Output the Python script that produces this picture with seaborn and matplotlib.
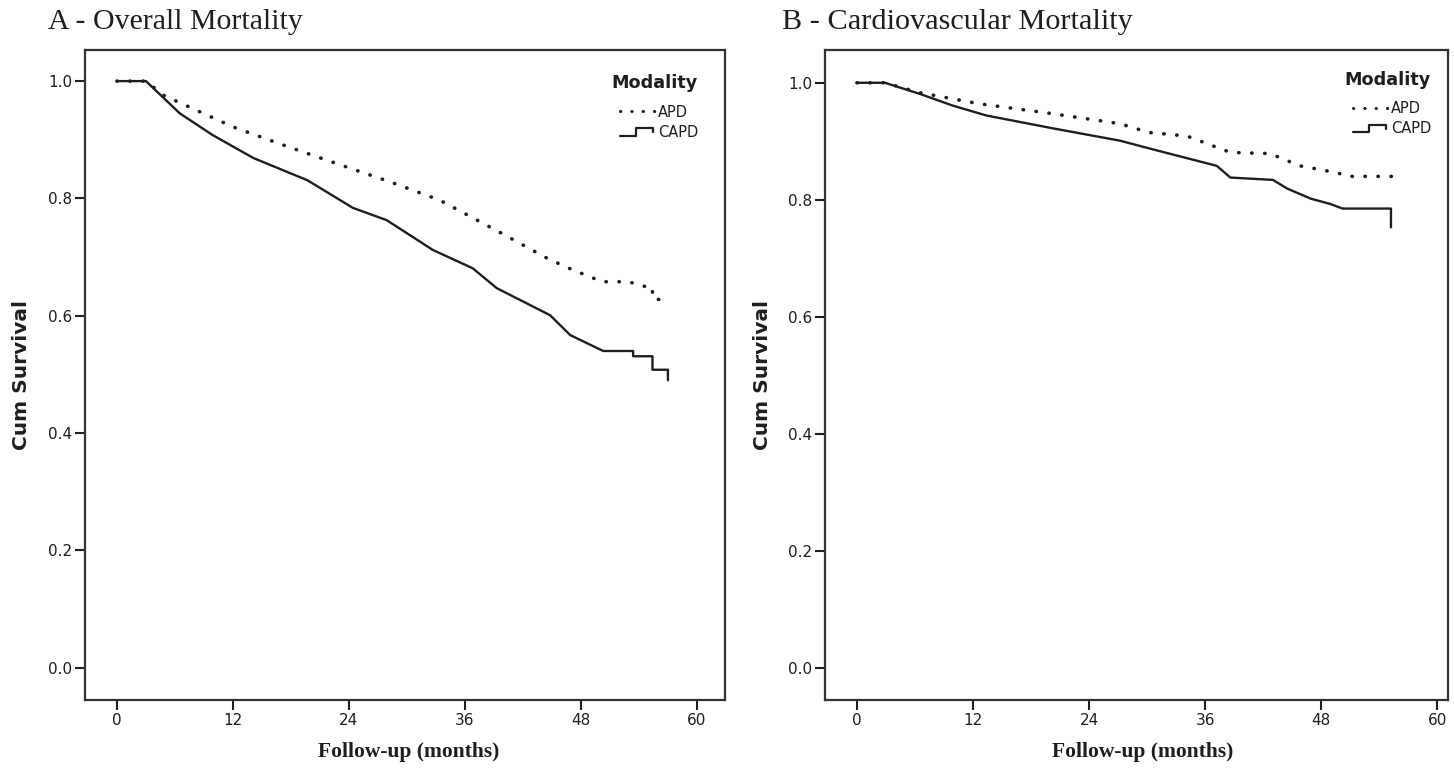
import numpy as np
import pandas as pd
import matplotlib
matplotlib.use("Agg")
import matplotlib.pyplot as plt
import seaborn as sns
from matplotlib.lines import Line2D
from matplotlib.legend_handler import HandlerBase

# ---------------- data ----------------
x_ticks = [0, 12, 24, 36, 48, 60]
y_ticks = [0.0, 0.2, 0.4, 0.6, 0.8, 1.0]
y_tick_labels = ["0.0", "0.2", "0.4", "0.6", "0.8", "1.0"]
groups = ["APD", "CAPD"]
titles = ["A - Overall Mortality", "B - Cardiovascular Mortality"]

a_capd_t = [0, 3.0, 6.5, 9.9, 14.1, 19.7, 24.4, 27.9, 32.7, 36.8, 39.3, 44.8, 46.9,
            50.3, 53.4, 53.4, 55.4, 55.4, 57.0, 57.0]
a_capd_s = [1.0, 1.0, 0.945, 0.908, 0.869, 0.831, 0.784, 0.763, 0.712, 0.681, 0.647, 0.601,
            0.567, 0.540, 0.540, 0.531, 0.531, 0.508, 0.508, 0.490]
a_apd_t = [0, 3.0, 4.8, 12.0, 17.2, 22.8, 28.3, 33.4, 39.3, 42.4, 44.5, 46.9, 50.2, 53.0,
           54.1, 55.4, 55.4, 57.0]
a_apd_s = [1.0, 1.0, 0.976, 0.922, 0.891, 0.859, 0.828, 0.797, 0.745, 0.717, 0.698, 0.680,
           0.658, 0.658, 0.651, 0.649, 0.629, 0.626]

b_capd_t = [0, 2.9, 6.5, 9.9, 13.4, 20.3, 27.2, 30.4, 37.2, 38.6, 43.0, 44.5, 46.9, 48.9,
            50.2, 55.2, 55.2]
b_capd_s = [1.0, 1.0, 0.981, 0.961, 0.944, 0.922, 0.901, 0.887, 0.858, 0.838, 0.834, 0.819,
            0.802, 0.793, 0.785, 0.785, 0.753]
b_apd_t = [0, 2.9, 6.5, 12.7, 20.3, 27.2, 30.2, 34.1, 38.6, 42.7, 45.8, 49.7, 50.7, 55.3, 55.3]
b_apd_s = [1.0, 1.0, 0.983, 0.964, 0.947, 0.930, 0.915, 0.909, 0.881, 0.879, 0.858, 0.846,
           0.840, 0.840, 0.821]

# ---------------- style ----------------
sns.set_style("white")
plt.rcParams["font.family"] = ["DejaVu Sans"]
INK = "#1e1e1e"

fig = plt.figure(figsize=(14.54, 7.73), dpi=100)
axA = fig.add_axes([0.0585, 0.0944, 0.4401, 0.8409])
axB = fig.add_axes([0.5674, 0.0944, 0.4285, 0.8409])


class StepHandler(HandlerBase):
    def create_artists(self, legend, orig_handle, xdescent, ydescent, width, height,
                       fontsize, trans):
        xs = np.array([0.0, 0.45, 0.45, 0.95, 0.95]) * width - xdescent
        ys = np.array([0.1, 0.1, 0.85, 0.85, 0.45]) * height - ydescent
        ln = Line2D(xs, ys, color=INK, lw=1.6)
        ln.set_transform(trans)
        return [ln]


def draw(ax, apd_t, apd_s, capd_t, capd_s, xlim, ylim, title, title_x, title_fs,
         ylab_x, xlab_x, leg_anchor):
    d_apd = pd.DataFrame({"t": apd_t, "s": apd_s})
    d_capd = pd.DataFrame({"t": capd_t, "s": capd_s})
    sns.lineplot(data=d_apd, x="t", y="s", ax=ax, estimator=None, sort=False,
                 color=INK, lw=2.6, linestyle=(0, (0.1, 3.5)),
                 dash_capstyle="round", solid_capstyle="round")
    sns.lineplot(data=d_capd, x="t", y="s", ax=ax, estimator=None, sort=False,
                 color=INK, lw=1.7)
    ax.set_xlim(*xlim)
    ax.set_ylim(*ylim)
    ax.set_xticks(x_ticks)
    ax.set_yticks(y_ticks)
    ax.set_yticklabels(y_tick_labels)
    ax.tick_params(axis="both", direction="out", length=7, width=1.5, colors=INK,
                   labelsize=11, pad=2, bottom=True, left=True)
    for sp in ax.spines.values():
        sp.set_visible(True)
        sp.set_color("#333333")
        sp.set_linewidth(1.6)
    ax.set_ylabel("Cum Survival", fontsize=14.5, fontweight="bold", color=INK)
    ax.yaxis.set_label_coords(ylab_x, 0.5)
    ax.set_xlabel("Follow-up (months)", fontsize=15.5, fontweight="bold", color=INK,
                  family="Liberation Serif")
    ax.xaxis.set_label_coords(xlab_x, -0.064)
    fig.text(title_x, 1 - 22 / 773, title, fontsize=title_fs, family="Liberation Serif",
             va="center", ha="left", color=INK)

    h_apd = Line2D([], [], color=INK, lw=2.2, linestyle=(0, (0.1, 3.6)),
                   dash_capstyle="round")
    h_capd = Line2D([], [], color=INK, lw=1.6)
    leg = ax.legend([h_apd, h_capd], groups, title="Modality", loc="upper right",
                    bbox_to_anchor=leg_anchor, frameon=False, fontsize=10.5,
                    handlelength=2.4, handletextpad=0.2, labelspacing=0.35,
                    borderaxespad=0.0,
                    handler_map={h_capd: StepHandler()})
    leg.get_title().set_fontweight("bold")
    leg.get_title().set_fontsize(12.7)
    leg.get_title().set_color(INK)
    leg._legend_box.align = "right"
    leg._legend_box.sep = 9
    for txt in leg.get_texts():
        txt.set_color(INK)


draw(axA, a_apd_t, a_apd_s, a_capd_t, a_capd_s, (-3.3, 62.9), (-0.055, 1.053),
     titles[0], 48 / 1454, 21.5, -0.084, 0.506, (0.967, 0.972))
draw(axB, b_apd_t, b_apd_s, b_capd_t, b_capd_s, (-3.3, 61.1), (-0.055, 1.056),
     titles[1], 782 / 1454, 21.8, -0.085, 0.51, (0.982, 0.977))

fig.savefig("out.png", dpi=100)
